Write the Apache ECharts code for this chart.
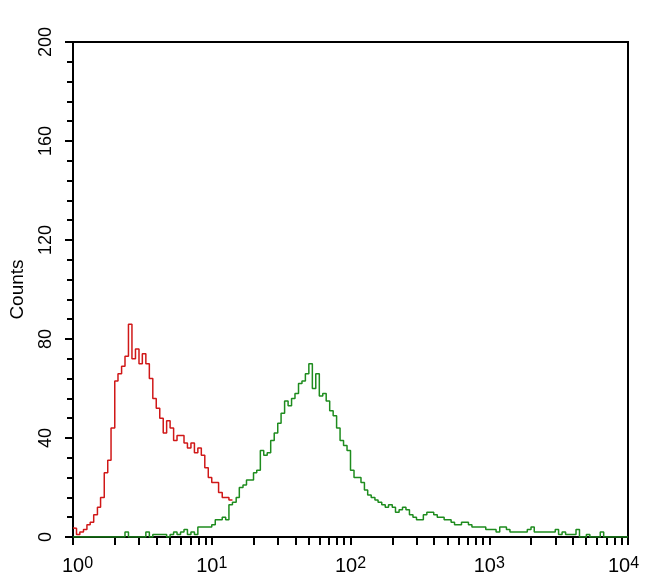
<!DOCTYPE html>
<html><head><meta charset="utf-8">
<script src="https://cdn.jsdelivr.net/npm/echarts@6/dist/echarts.min.js"></script>
<style>html,body{margin:0;padding:0;background:#fff}#c{width:650px;height:585px}</style>
</head><body><div id="c"></div>
<script>
// Y axis tick labels
const yTickValues = [0, 40, 80, 120, 160, 200];
// X axis decade labels (log scale)
const xDecadeValues = [1, 10, 100, 1000, 10000];
// X axis tick positions (decades and 2..9 within each decade)
const xTickValues = [1,2,3,4,5,6,7,8,9,10,20,30,40,50,60,70,80,90,100,200,300,400,500,600,700,800,900,1000,2000,3000,4000,5000,6000,7000,8000,9000,10000];

// Red histogram (control)
const redX = [1.00,1.06,1.12,1.19,1.26,1.33,1.41,1.50,1.58,1.68,1.78,1.88,2.00,2.11,2.24,2.37,2.51,2.66,2.82,2.99,3.16,3.35,3.55,3.76,3.98,4.22,4.47,4.73,5.01,5.31,5.62,5.96,6.31,6.68,7.08,7.50,7.94,8.41,8.91,9.44,10.0,10.6,11.2,11.9,12.6,13.3,14.1];
const redCounts = [3.6,3.5,1,2,3,5,6,9,12,16,26,31,44,63,66,69,73,86,72,76,70,74,70,64,56,52,48,42,47,44,39,41,41,38,36,38,34,36,33,28,24,22,22,18,16,16,15];

// Green histogram (stained)
const greenX = [
1.00,1.06,1.12,1.19,1.26,1.33,1.41,1.50,1.58,1.68,1.78,1.88,2.00,2.11,2.24,2.37,2.51,2.66,2.82,2.99,3.16,3.35,3.55,3.76,3.98,4.22,4.47,4.73,5.01,5.31,5.62,5.96,6.31,6.68,7.08,7.50,7.94,8.41,8.91,9.44,
10.0,10.6,11.2,11.9,12.6,13.3,14.1,15.0,15.8,16.8,17.8,18.8,20.0,21.1,22.4,23.7,25.1,26.6,28.2,29.9,31.6,33.5,35.5,37.6,39.8,42.2,44.7,47.3,50.1,53.1,56.2,59.6,63.1,66.8,70.8,75.0,79.4,84.1,89.1,94.4,
100,106,112,119,126,133,141,150,158,168,178,188,200,211,224,237,251,266,282,299,316,335,355,376,398,422,447,473,501,531,562,596,631,668,708,750,794,841,891,944,
1000,1060,1120,1190,1260,1330,1410,1500,1580,1680,1780,1880,2000,2110,2240,2370,2510,2660,2820,2990,3160,3350,3550,3760,3980,4220,4470,4730,5010,5310,5620,5960,6310,6680,7080,7500,7940,8410,8910,9440,
10000];
const greenCounts = [
0,0,0,0,0,0,0,0,0,0,0,0,0,0,0,0,2,0,0,0,0,0,2,0,1,1,1,1,0,1,2,1,2,3,1,2,1,4,4,4,
4,5,7,7,8,7,13,14,16,20,21,23,23,26,27,35,33,34,39,42,46,50,55,53,56,58,62,63,66,70,60,66,57,58,55,51,49,44,39,37,
35,27,24,24,22,19,17,16,15,14,13,12,13,12,10,11,12,11,9,8,7,7,9,10,10,9,8,8,7,7,6,5,5,6,6,5,4,4,4,4,
3,3,3,2,4,4,3,2,2,2,2,2,3,4,2,2,2,2,2,2,3,1,2,1,1,1,3,0,0,1,0,0,0,2,0,0,0,0,0,0,
0];

const FONT = '"Liberation Sans", Arial, sans-serif';
const pairs = (xs, ys) => xs.map((x, i) => [x, ys[i]]);

const chart = echarts.init(document.getElementById('c'), null, {renderer: 'canvas'});
chart.setOption({
  animation: false,
  backgroundColor: '#fff',
  grid: {left: 72, right: 22, top: 42, bottom: 48, show: true, borderColor: '#000', borderWidth: 2, backgroundColor: 'transparent'},
  xAxis: [{
    type: 'log', logBase: 10, min: 1, max: 10000, position: 'bottom',
    axisLine: {show: true, lineStyle: {color: '#000', width: 2}},
    axisTick: {show: false},
    splitLine: {show: false},
    axisLabel: {
      customValues: xDecadeValues,
      margin: 19, color: '#000', fontFamily: FONT,
      formatter: function (v) {
        const e = Math.round(Math.log10(v));
        let s = '{b|10}{s|' + e + '}';
        if (e === 0) s = '{p|}' + s;
        if (e === 4) s = s + '{p|}';
        return s;
      },
      rich: {
        b: {fontSize: 20, lineHeight: 20, padding: [10, 0, 0, 0], verticalAlign: 'bottom', color: '#000', fontFamily: FONT},
        s: {fontSize: 16, lineHeight: 16, verticalAlign: 'top', color: '#000', fontFamily: FONT},
        p: {width: 9}
      }
    }
  }, {
    type: 'value', min: 0, max: 4, position: 'bottom',
    axisLine: {show: false},
    axisLabel: {show: false},
    splitLine: {show: false},
    axisTick: {show: true, length: 8, lineStyle: {color: '#000', width: 2}, customValues: xTickValues.map(v => Math.log10(v))}
  }],
  yAxis: {
    type: 'value', min: 0, max: 200, interval: 40,
    axisLine: {show: true, lineStyle: {color: '#000', width: 2}},
    axisTick: {show: true, length: 8, lineStyle: {color: '#000', width: 2}},
    minorTick: {show: true, splitNumber: 5, length: 6, lineStyle: {color: '#000', width: 2}},
    splitLine: {show: false},
    axisLabel: {customValues: yTickValues, rotate: 90, fontSize: 18, color: '#000', fontFamily: FONT, margin: 18},
    name: 'Counts', nameLocation: 'middle', nameGap: 46, nameRotate: 90,
    nameTextStyle: {fontSize: 19, color: '#000', fontFamily: FONT}
  },
  series: [{
    type: 'line', xAxisIndex: 0, step: 'start', showSymbol: false,
    lineStyle: {color: '#1e8c1e', width: 1.5}, itemStyle: {color: '#1e8c1e'},
    data: pairs(greenX, greenCounts)
  }, {
    type: 'line', xAxisIndex: 0, step: 'start', showSymbol: false,
    lineStyle: {color: '#d01818', width: 1.5}, itemStyle: {color: '#d01818'},
    data: pairs(redX, redCounts)
  }]
});
</script>
</body></html>
